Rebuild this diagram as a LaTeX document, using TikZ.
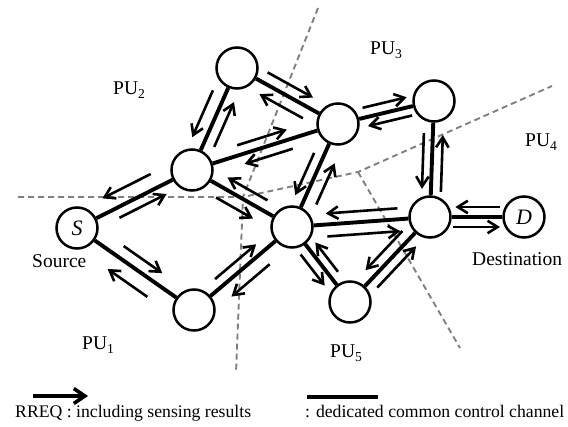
\documentclass[tikz,border=0pt]{standalone}
\usepackage{fontspec}
\setmainfont{Liberation Serif}
\usetikzlibrary{calc,arrows.meta}
\definecolor{bgray}{RGB}{128,128,128}
\newcommand\parr[5]{\draw[arr] ($(#1)!#3!(#2)!#5pt!90:(#2)$) -- ($(#1)!#4!(#2)!#5pt!90:(#2)$);}
\begin{document}
\begin{tikzpicture}[x=1pt,y=-1pt,
  nd/.style={circle,draw,fill=white,line width=2.5pt,minimum size=41pt,inner sep=0pt,font=\fontsize{22}{26}\selectfont\itshape},
  edge/.style={line width=3.9pt},
  arr/.style={line width=2.6pt,-{Straight Barb[length=10pt,width=12.5pt]}},
  bound/.style={draw=bgray,line width=1.9pt,dash pattern=on 6pt off 4pt},
  lab/.style={anchor=base west,inner sep=0pt,font=\fontsize{19.5}{23}\selectfont},
  leg/.style={anchor=base west,inner sep=0pt,font=\fontsize{17.7}{21}\selectfont}]
\useasboundingbox (0,0) rectangle (568,427);
% PU boundaries
\coordinate (j1) at (243,197);
\coordinate (j2) at (358,172);
\coordinate (b1) at (18,197);
\coordinate (b2) at (552,86);
\coordinate (b3) at (318,8);
\coordinate (b4) at (236,373);
\coordinate (b5) at (460,348);
\draw[bound] (b1) -- (j1) -- (j2) -- (b2);
\draw[bound] (b3) -- (j1) -- (b4);
\draw[bound] (j2) -- (b5);
% nodes
\node[nd] (S) at (77,228) {S};
\node[nd] (A) at (237,68) {};
\node[nd] (B) at (192,170) {};
\node[nd] (C) at (194,310) {};
\node[nd] (E) at (292,227) {};
\node[nd] (F) at (338,124) {};
\node[nd] (G) at (434,101) {};
\node[nd] (H) at (430,217) {};
\node[nd] (I) at (350,302) {};
\node[nd] (D) at (524,217) {D};
% control channel links
\foreach \a/\b in {S/B,S/C,B/A,B/F,B/E,A/F,F/G,F/E,G/H,C/E,E/H,E/I,I/H,H/D}
  \draw[edge] (\a) -- (\b);
% RREQ arrows
\parr{B}{S}{.30}{.72}{-15}
\parr{S}{B}{.33}{.74}{-10}
\parr{S}{C}{.34}{.67}{12}
\parr{C}{S}{.32}{.66}{16}
\parr{C}{E}{.28}{.70}{10}
\parr{E}{C}{.32}{.71}{14}
\parr{A}{B}{.27}{.73}{-13}
\parr{B}{A}{.27}{.71}{-11}
\parr{A}{F}{.25}{.70}{11}
\parr{F}{A}{.29}{.72}{12}
\parr{B}{F}{.33}{.67}{10}
\parr{F}{B}{.33}{.66}{10}
\parr{E}{B}{.30}{.70}{-11}
\parr{B}{E}{.30}{.67}{-12}
\parr{F}{E}{.32}{.73}{-10}
\parr{E}{F}{.27}{.67}{-13}
\parr{F}{G}{.28}{.74}{10}
\parr{G}{F}{.25}{.71}{9}
\parr{G}{H}{.28}{.76}{-9}
\parr{H}{G}{.22}{.71}{-10}
\parr{H}{E}{.23}{.75}{-11}
\parr{E}{H}{.25}{.78}{-12}
\parr{D}{H}{.255}{.73}{-10}
\parr{H}{D}{.245}{.745}{-10}
\parr{E}{I}{.285}{.70}{-10}
\parr{I}{E}{.33}{.72}{-9}
\parr{H}{I}{.25}{.71}{-10.5}
\parr{I}{H}{.25}{.735}{-10}
% labels
\node[lab] (pu1) at (82,350) {PU\textsubscript{1}};
\node[lab] (pu2) at (113,95) {PU\textsubscript{2}};
\node[lab] (pu3) at (370,55) {PU\textsubscript{3}};
\node[lab] (pu4) at (525,147) {PU\textsubscript{4}};
\node[lab] (pu5) at (330,358) {PU\textsubscript{5}};
\node[lab] (src) at (32,268) {Source};
\node[lab] (dst) at (472,266) {Destination};
% legend
\coordinate (l1a) at (33,396);
\coordinate (l1b) at (88,396);
\coordinate (l2a) at (307,397);
\coordinate (l2b) at (378,397);
\draw[line width=3.6pt,-{Straight Barb[length=11pt,width=15pt]}] (l1a) -- (l1b);
\draw[edge] (l2a) -- (l2b);
\node[leg] (t1) at (15,418) {RREQ : including sensing results};
\node[leg] (t2) at (305,418) {: dedicated common control channel};
\end{tikzpicture}
\end{document}
